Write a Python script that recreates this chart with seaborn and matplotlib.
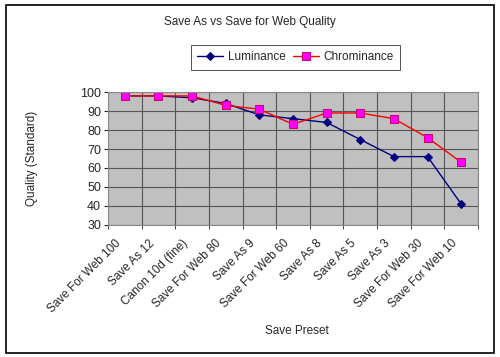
import matplotlib
matplotlib.use("Agg")
import matplotlib.pyplot as plt
import matplotlib.transforms as mtransforms
import seaborn as sns
import pandas as pd
from matplotlib.patches import Rectangle

presets = ["Save For Web 100", "Save As 12", "Canon 10d (fine)", "Save For Web 80",
           "Save As 9", "Save For Web 60", "Save As 8", "Save As 5", "Save As 3",
           "Save For Web 30", "Save For Web 10"]
luminance = [98, 98, 97, 94, 88, 86, 84, 75, 66, 66, 41]
chrominance = [98, 98, 98, 93, 91, 83, 89, 89, 86, 76, 63]

df = pd.DataFrame({"pos": range(len(presets)), "Luminance": luminance, "Chrominance": chrominance})

sns.set_style("white")
plt.rcParams["font.family"] = ["Liberation Sans", "DejaVu Sans"]

fig = plt.figure(figsize=(5, 3.57), dpi=100)
ax = fig.add_axes([0.216, 0.370, 0.740, 0.372])
ax.set_facecolor("#C0C0C0")

sns.lineplot(data=df, x="pos", y="Luminance", ax=ax, color="#000080", lw=1,
             marker="D", markersize=4, markeredgecolor="#000080", label="Luminance")
sns.lineplot(data=df, x="pos", y="Chrominance", ax=ax, color="#FF0000", lw=1,
             marker="s", markersize=6, markerfacecolor="#FF00FF", markeredgecolor="#D0006F",
             label="Chrominance")

ax.set_xlim(-0.5, len(presets) - 0.5)
ax.set_ylim(30, 100)
ax.set_yticks(range(30, 101, 10))
ax.set_xticks(range(len(presets)))
ax.set_xticks([i - 0.5 for i in range(len(presets) + 1)], minor=True)
ax.tick_params(axis="y", labelsize=9, length=3, left=True, pad=2)
ax.tick_params(axis="x", which="major", length=0, pad=12)
ax.tick_params(axis="x", which="minor", length=3, bottom=True)
ax.set_xticklabels(presets, rotation=45, ha="right", va="center", rotation_mode="anchor", fontsize=8.5)
# nudge the slanted labels left, like the original
shift = mtransforms.ScaledTranslation(-6 / 100, 0, fig.dpi_scale_trans)
for lbl in ax.get_xticklabels():
    lbl.set_transform(lbl.get_transform() + shift)
ax.grid(True, axis="y", which="major", color="#555555", lw=0.8)
ax.grid(True, axis="x", which="minor", color="#555555", lw=0.8)
ax.set_axisbelow(True)
for s in ax.spines.values():
    s.set_color("#888888")
    s.set_linewidth(0.8)

ax.set_xlabel("Save Preset", fontsize=8.5)
ax.xaxis.set_label_coords(0.51, -0.75)
ax.set_ylabel("Quality (Standard)", fontsize=8.5)
ax.yaxis.set_label_coords(-0.19, 0.5)
fig.text(0.5, 0.938, "Save As vs Save for Web Quality", fontsize=8.5, ha="center", va="center")

ax.get_legend().remove()
handles, labels = ax.get_legend_handles_labels()
leg = fig.legend(handles, labels, ncol=2, loc="center", bbox_to_anchor=(0.591, 0.840),
                 fontsize=8.5, frameon=True, fancybox=False, edgecolor="black", borderpad=0.55,
                 handlelength=2.2, columnspacing=0.6, handletextpad=0.4)
leg.get_frame().set_linewidth(0.6)

fig.patches.append(Rectangle((0.012, 0.012), 0.976, 0.974, transform=fig.transFigure,
                             fill=False, edgecolor="black", lw=1.2))

fig.savefig("out.png", dpi=100)
